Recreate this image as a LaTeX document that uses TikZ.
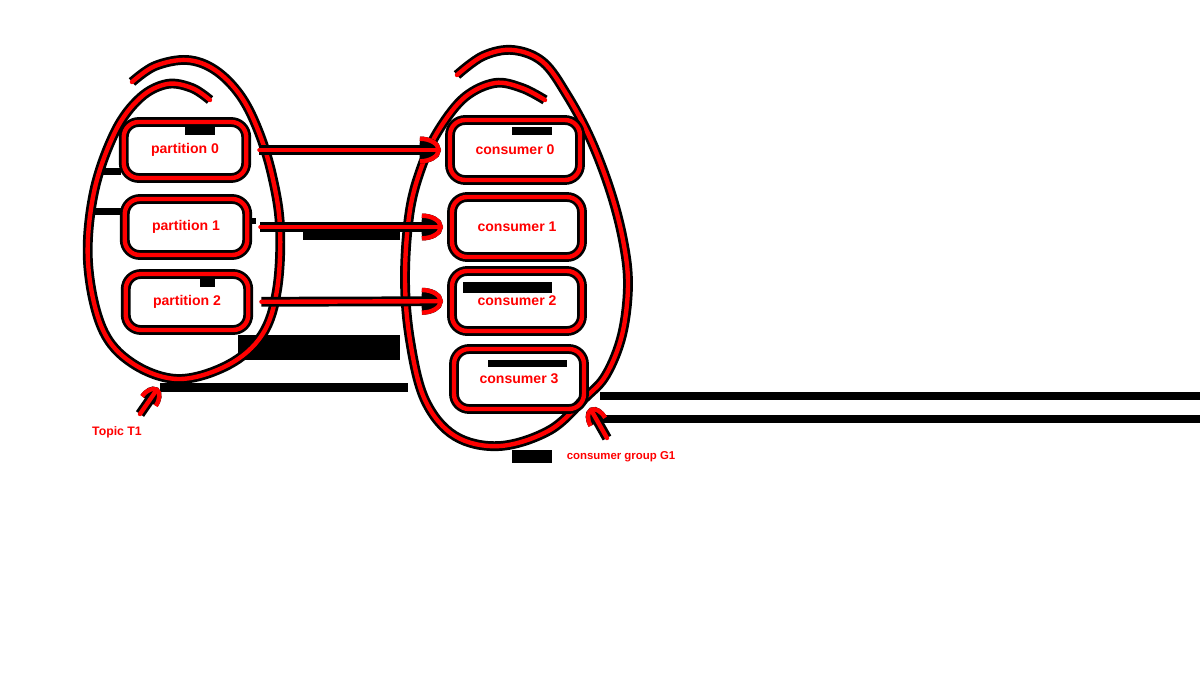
\documentclass[tikz,border=0pt]{standalone}
\usepackage{fontspec}
\setmainfont{Liberation Sans}
\usetikzlibrary{arrows.meta}
\definecolor{sketchred}{HTML}{FF0000}
\definecolor{sketchink}{HTML}{000000}
\tikzset{
  sketch stroke/.style={
    draw=sketchred, line width=2.5pt, line cap=round, line join=round,
    preaction={draw=sketchink, line width=5.6pt}
  },
  sketch box/.style={
    sketch stroke, rectangle, rounded corners=3mm,
    minimum width=2.45cm, minimum height=1.12cm, inner sep=0pt,
    text=sketchred, font=\fontsize{8}{9}\selectfont\bfseries
  },
  sketch arrow/.style={
    sketch stroke, -{Arc Barb[length=4.2mm,width=5.4mm]},
    shorten <=2.2mm, shorten >=1.4mm
  },
  pointer arrow/.style={
    sketch stroke, -{Arc Barb[length=3.2mm,width=4.2mm]}
  },
  sketch label/.style={
    text=sketchred, inner sep=1pt, font=\fontsize{7}{8}\selectfont\bfseries
  },
  scan bar/.style={fill=sketchink, draw=none}
}

\begin{document}
\begin{tikzpicture}[x=0.02cm,y=-0.02cm]
  \useasboundingbox (0,0) rectangle (1200,677);

  % Dark streaks left over from the scan.
  \foreach \xa/\ya/\xb/\yb in {185/127/215/135, 103/168/121/175, 95/208/121/215,
      245/218/256/224, 200/278/215/287, 303/232/400/240, 238/335/400/360,
      160/383/408/392, 600/392/1200/400, 600/415/1200/423, 512/450/552/463,
      512/127/552/135, 463/282/552/293, 488/360/567/367}
    \fill[scan bar] (\xa,\ya) rectangle (\xb,\yb);

  % Hand-drawn loops round the topic and the consumer group.
  \draw[sketch stroke] plot[smooth, tension=0.6] coordinates {
    (132,82) (155,66) (187,60) (215,70) (240,95) (258,130) (272,175)
    (280,227) (277,290) (262,335) (228,365) (178,379) (132,363) (102,328)
    (88,262) (94,192) (115,132) (140,98) (167,84) (192,88) (210,100)};
  \draw[sketch stroke] plot[smooth, tension=0.6] coordinates {
    (457,75) (483,56) (513,50) (543,62) (567,95) (590,138) (610,190)
    (623,240) (628,285) (622,335) (606,375) (585,398) (550,430) (500,446)
    (455,436) (425,400) (410,340) (405,277) (410,210) (423,163) (440,128)
    (465,97) (495,83) (522,88) (545,100)};

  % Partitions of the topic.
  \node[sketch box] (p0) at (185,150) {partition 0};
  \node[sketch box] (p1) at (186,227) {partition 1};
  \node[sketch box] (p2) at (187,302) {partition 2};

  % Consumers of the group.
  \node[sketch box, minimum width=2.6cm, minimum height=1.2cm] (c0) at (515,150) {consumer 0};
  \node[sketch box, minimum width=2.6cm, minimum height=1.2cm] (c1) at (517,227) {consumer 1};
  \node[sketch box, minimum width=2.6cm, minimum height=1.2cm] (c2) at (517,301) {consumer 2};
  \node[sketch box, minimum width=2.6cm, minimum height=1.2cm] (c3) at (519,379) {consumer 3};

  \draw[sketch arrow] (p0) -- (c0);
  \draw[sketch arrow] (p1) -- (c1);
  \draw[sketch arrow] (p2) -- (c2);

  % Captions with their pointers.
  \node[sketch label] (topic) at (117,432) {Topic T1};
  \node[sketch label, font=\fontsize{6.5}{8}\selectfont\bfseries] (group) at (621,457) {consumer group G1};
  \coordinate (topic tail) at (140,414);
  \coordinate (topic tip) at (158,388);
  \coordinate (group tail) at (607,438);
  \coordinate (group tip) at (590,408);
  \draw[pointer arrow] (topic tail) -- (topic tip);
  \draw[pointer arrow] (group tail) -- (group tip);
\end{tikzpicture}
\end{document}
